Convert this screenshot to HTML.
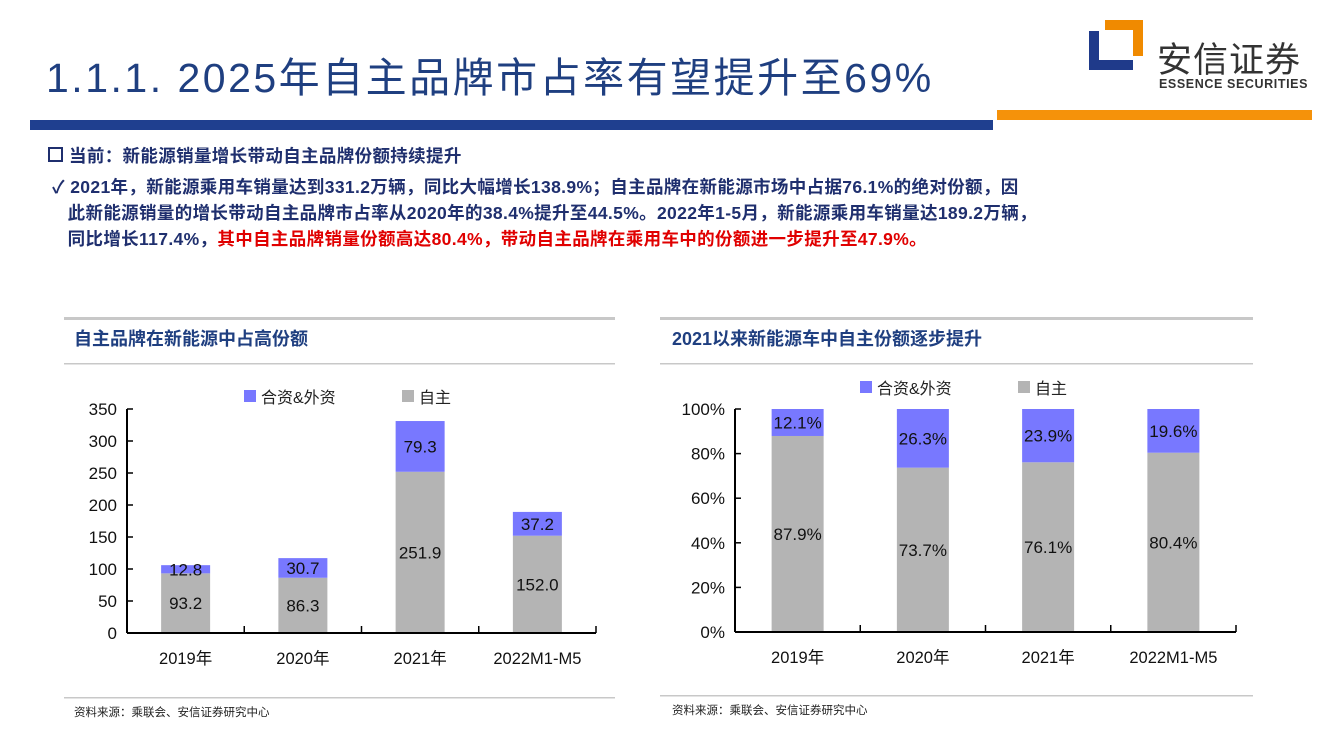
<!DOCTYPE html>
<html><head><meta charset="utf-8">
<style>
body{margin:0;width:1333px;height:750px;background:#fff;position:relative;overflow:hidden;font-family:"Liberation Sans","Noto Sans CJK SC",sans-serif;}
.abs{position:absolute;white-space:nowrap;}
.txt{font-size:17.5px;font-weight:bold;color:#1f2f6e;letter-spacing:0.35px;}
.red{color:#e00000;}
</style></head><body>
<div class="abs" style="left:46px;top:44px;font-size:41px;color:#1f3f80;letter-spacing:2.5px;">1.1.1. 2025年自主品牌市占率有望提升至69%</div>
<svg class="abs" style="left:1085px;top:18px" width="62" height="56">
<path d="M20 2 H58 V38 H48 V12 H20 Z" fill="#f08a00"/>
<path d="M4 13 H14 V42 H48 V52 H4 Z" fill="#1f3a8a"/>
</svg>
<div class="abs" style="left:1157px;top:32px;font-size:35px;color:#333;letter-spacing:1px;">安信证券</div>
<div class="abs" style="left:1159px;top:77px;font-size:12.5px;font-weight:bold;color:#333;letter-spacing:0.6px;">ESSENCE SECURITIES</div>
<div class="abs" style="left:30px;top:120px;width:963px;height:10px;background:#1f3f8f;"></div>
<div class="abs" style="left:997px;top:110px;width:315px;height:10px;background:#f5920a;"></div>
<div class="abs txt" style="left:48px;top:143px;"><span style="display:inline-block;width:11px;height:11px;border:2px solid #1f2f6e;margin-right:6px;vertical-align:0px"></span>当前：新能源销量增长带动自主品牌份额持续提升</div>
<div class="abs txt" style="left:52px;top:174px;line-height:26px;">✓ 2021年，新能源乘用车销量达到331.2万辆，同比大幅增长138.9%；自主品牌在新能源市场中占据76.1%的绝对份额，因<br>&nbsp;&nbsp;&nbsp;此新能源销量的增长带动自主品牌市占率从2020年的38.4%提升至44.5%。2022年1-5月，新能源乘用车销量达189.2万辆，<br>&nbsp;&nbsp;&nbsp;同比增长117.4%，<span class="red">其中自主品牌销量份额高达80.4%，带动自主品牌在乘用车中的份额进一步提升至47.9%。</span></div>

<svg class="abs" style="left:0;top:0" width="1333" height="750" id="charts"></svg>
<script>
const categories=["2019年","2020年","2021年","2022M1-M5"];
const leftOwn=[93.2,86.3,251.9,152.0];
const leftJV=[12.8,30.7,79.3,37.2];
const leftTicks=[0,50,100,150,200,250,300,350];
const rightOwn=[87.9,73.7,76.1,80.4];
const rightJV=[12.1,26.3,23.9,19.6];
const rightTicks=[0,20,40,60,80,100];
const NS="http://www.w3.org/2000/svg";
const svg=document.getElementById('charts');
function mk(tag,attrs,text){const e=document.createElementNS(NS,tag);for(const k in attrs)e.setAttribute(k,attrs[k]);if(text!==undefined)e.textContent=text;svg.appendChild(e);return e;}
const FONT='"Liberation Sans","Noto Sans CJK SC",sans-serif';
function chart(o){
  let e=mk('rect',{x:o.fx,y:317,width:o.fw,height:3,fill:'#c8c8c8'});
  
  e=mk('rect',{x:o.fx,y:363,width:o.fw,height:1.5,fill:'#c8c8c8'});
  
  e=mk('text',{x:o.tx,y:345,'font-size':18,'font-weight':'bold',fill:'#1f3f80','font-family':FONT},o.title);
  
  e=mk('rect',{x:o.fx,y:o.fy,width:o.fw,height:1.5,fill:'#c8c8c8'});
  
  e=mk('text',{x:o.tx,y:o.fy+19,'font-size':11.5,fill:'#222','font-family':FONT},'资料来源：乘联会、安信证券研究中心');
  
  e=mk('rect',{x:o.lx,y:o.ly-13,width:12,height:12,fill:'#7878ff'});
  
  e=mk('text',{x:o.lx+17,y:o.ly,'font-size':16,fill:'#222','font-family':FONT},'合资&外资');
  
  e=mk('rect',{x:o.lx+158,y:o.ly-13,width:12,height:12,fill:'#b4b4b4'});
  
  e=mk('text',{x:o.lx+175,y:o.ly,'font-size':16,fill:'#222','font-family':FONT},'自主');
  
  const y=v=>o.y0-(v/o.max)*(o.y0-o.y1);
  const step=(o.x1-o.x0)/categories.length;
  o.ticks.forEach(t=>{
    let l=mk('line',{x1:o.x0,x2:o.x0+6,y1:y(t),y2:y(t),stroke:'#000','stroke-width':1.5});
    
    let tx=mk('text',{x:o.x0-10,y:y(t)+6,'font-size':17,'text-anchor':'end',fill:'#111','font-family':FONT},t+o.suf);
    
  });
  categories.forEach((c,i)=>{
    const cx=o.x0+step*(i+0.5);
    const own=o.own[i], jv=o.jv[i];
    let r=mk('rect',{x:cx-o.bw/2,y:y(own),width:o.bw,height:y(0)-y(own),fill:'#b4b4b4'});
    
    r=mk('rect',{x:cx-o.bw/2,y:y(own+jv),width:o.bw,height:y(own)-y(own+jv),fill:'#7878ff'});
    
    let t=mk('text',{x:cx,y:(y(0)+y(own))/2+6,'font-size':17,'text-anchor':'middle',fill:'#111','font-family':FONT},own.toFixed(1)+o.suf);
    
    t=mk('text',{x:cx,y:(y(own)+y(own+jv))/2+6,'font-size':17,'text-anchor':'middle',fill:'#111','font-family':FONT},jv.toFixed(1)+o.suf);
    
    t=mk('text',{x:cx,y:o.y0+31,'font-size':16.5,'text-anchor':'middle',fill:'#111','font-family':FONT},c);
    
    let tk=mk('line',{x1:o.x0+step*(i+1),x2:o.x0+step*(i+1),y1:o.y0,y2:o.y0-7,stroke:'#000','stroke-width':1.5});
    
  });
  let a=mk('line',{x1:o.x0,x2:o.x0,y1:o.y1,y2:o.y0,stroke:'#000','stroke-width':2});
  
  a=mk('line',{x1:o.x0,x2:o.x1,y1:o.y0,y2:o.y0,stroke:'#000','stroke-width':2});
  
}
chart({fx:64,fw:551,tx:74,title:'自主品牌在新能源中占高份额',fy:697,lx:244,ly:403,x0:127,x1:596,y0:633,y1:409,max:350,ticks:leftTicks,own:leftOwn,jv:leftJV,bw:49,suf:''});
chart({fx:660,fw:593,tx:672,title:'2021以来新能源车中自主份额逐步提升',fy:695,lx:860,ly:394,x0:735,x1:1236,y0:632,y1:409,max:100,ticks:rightTicks,own:rightOwn,jv:rightJV,bw:52,suf:'%'});
</script>
</body></html>
